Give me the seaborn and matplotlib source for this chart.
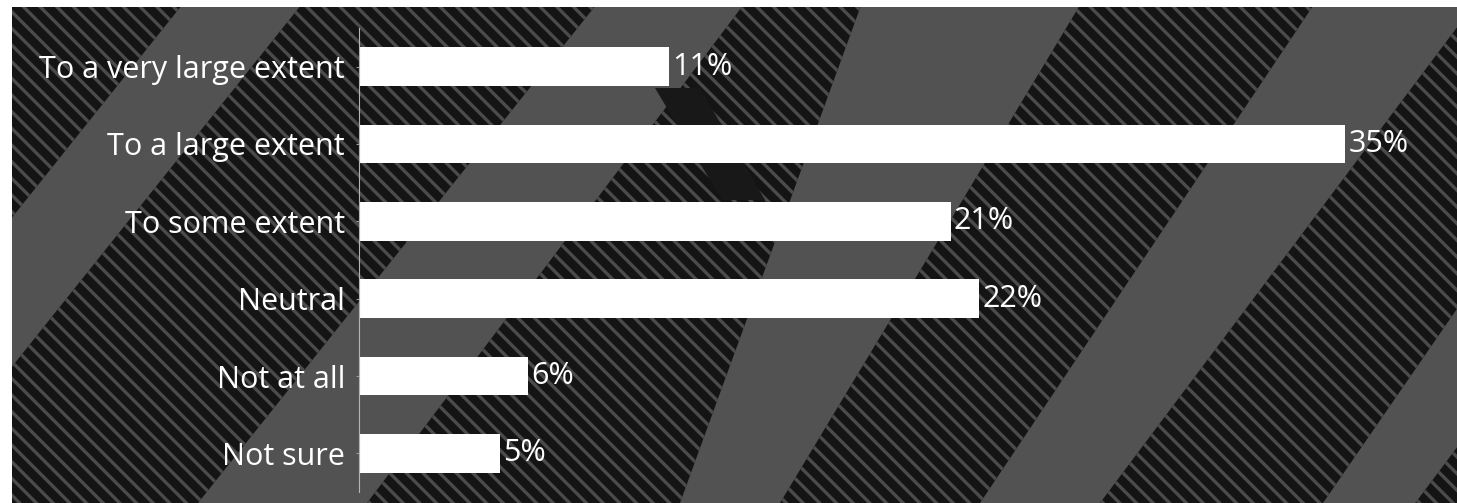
import matplotlib
matplotlib.use("Agg")
import matplotlib.pyplot as plt
import seaborn as sns
import pandas as pd
from matplotlib.patches import Polygon

categories = ["To a very large extent", "To a large extent", "To some extent",
              "Neutral", "Not at all", "Not sure"]
values = [11, 35, 21, 22, 6, 5]
value_labels = ["11%", "35%", "21%", "22%", "6%", "5%"]

df = pd.DataFrame({"category": categories, "value": values})

sns.set_theme(style="white")
plt.rcParams["font.family"] = ["Open Sans", "DejaVu Sans"]
plt.rcParams["hatch.linewidth"] = 2.4

W, H = 1457, 503
fig = plt.figure(figsize=(W / 100, H / 100), dpi=100)
fig.patch.set_facecolor("white")

# ---- decorative photo-like background (pixel coordinates) ----
bg = fig.add_axes([12 / W, 0, 1 - 12 / W, (H - 7) / H])
bg.set_xlim(12, W)
bg.set_ylim(H, 7)
bg.axis("off")
bg.add_patch(plt.Rectangle((0, 0), W, H, facecolor="#525252", edgecolor="none"))

striped = [
    [(-10, 0), (186, 0), (-10, 245)],
    [(305, 0), (600, 0), (198, 503), (-97, 503)],
    [(747, 0), (863, 0), (680, 503), (367, 503)],
    [(1083, 0), (1317, 0), (980, 503), (780, 503)],
    [(1470, 10), (1470, 290), (1323, 503), (1100, 503)],
    [(1470, 430), (1470, 510), (1410, 510)],
]
for p in striped:
    bg.add_patch(Polygon(p, closed=True, facecolor="#141414",
                         edgecolor="#4b4b4b", hatch="\\\\", linewidth=0))
dark = [
    [(655, 88), (700, 88), (765, 200), (722, 200)],
]
for p in dark:
    bg.add_patch(Polygon(p, closed=True, facecolor="#181818",
                         edgecolor="none", linewidth=0))

# ---- chart ----
ax = fig.add_axes([359 / W, 1 - 492 / H, 1 - 359 / W, (492 - 28) / H])
ax.set_facecolor("none")

sns.barplot(data=df, x="value", y="category", orient="h", color="white",
            width=0.5, saturation=1, edgecolor="none", ax=ax)

ax.set_xlim(0, (W - 359) / 28.17)
ax.set_ylim(5.5, -0.5)
ax.set_xlabel("")
ax.set_ylabel("")
ax.set_xticks([])
for s in ["top", "right", "bottom"]:
    ax.spines[s].set_visible(False)
ax.spines["left"].set_color("#b5b5b5")
ax.spines["left"].set_linewidth(0.8)
ax.tick_params(axis="y", length=2, width=0.8, color="#9a9a9a", pad=8,
               labelsize=22, labelcolor="white", left=True)

for i, (v, lab) in enumerate(zip(values, value_labels)):
    ax.text(v + 0.12, i, lab, va="center", ha="left", color="white", fontsize=22)

fig.savefig("out.png", dpi=100, facecolor=fig.get_facecolor())
